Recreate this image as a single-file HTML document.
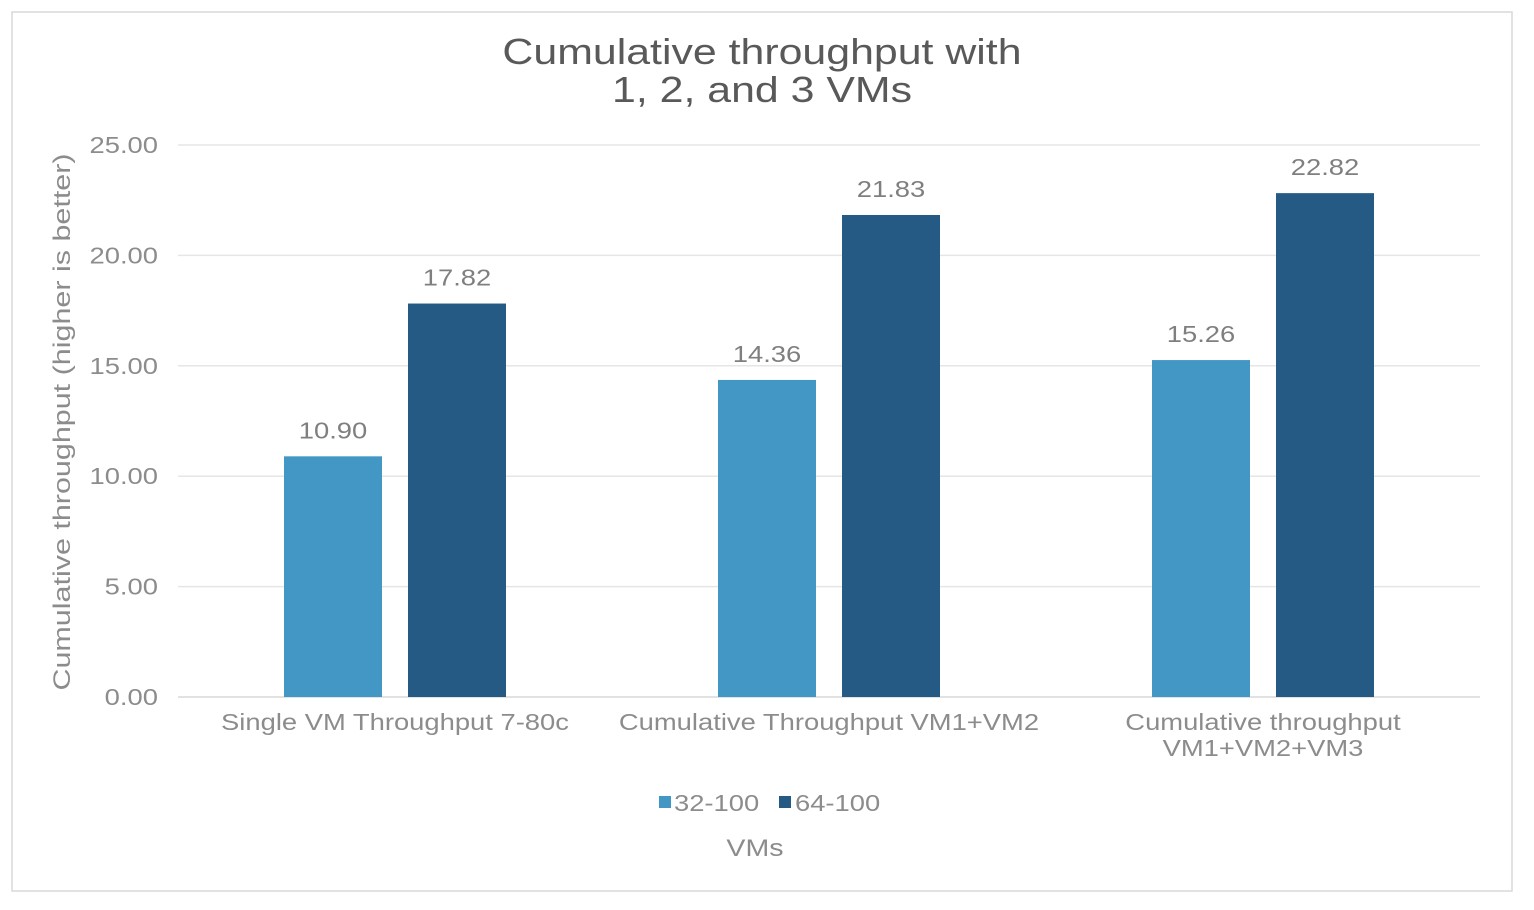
<!DOCTYPE html>
<html><head><meta charset="utf-8"><style>
body{margin:0;background:#fff;}
svg{display:block;font-family:"Liberation Sans",sans-serif;}
</style></head><body>
<svg id="chart" width="1534" height="910">
<rect x="12" y="12" width="1500" height="879" fill="#fff" stroke="#d9d9d9" stroke-width="1.5"/>
<text class="w" x="762" y="64" text-anchor="middle" font-size="36" fill="#595959">Cumulative throughput with</text>
<text class="w" x="762" y="102" text-anchor="middle" font-size="36" fill="#595959">1, 2, and 3 VMs</text>
<text id="ytitle" transform="translate(70,422) rotate(-90)" text-anchor="middle" font-size="24" fill="#8c8c8c">Cumulative throughput (higher is better)</text>
<text class="w" x="755" y="856" text-anchor="middle" font-size="24" fill="#8c8c8c">VMs</text>
<g id="grid"></g><g id="bars"></g><g id="labels"></g>
<g>
<rect x="659" y="796" width="12" height="12" fill="#4397C4"/>
<text class="w" x="674" y="811" font-size="23" fill="#8c8c8c">32-100</text>
<rect x="779" y="796" width="12" height="12" fill="#255A84"/>
<text class="w" x="795" y="811" font-size="23" fill="#8c8c8c">64-100</text>
</g>
</svg>
<script>
const categories=[["Single VM Throughput 7-80c"],["Cumulative Throughput VM1+VM2"],["Cumulative throughput","VM1+VM2+VM3"]];
const series1=[10.90,14.36,15.26];
const series2=[17.82,21.83,22.82];
const ticks=[0,5,10,15,20,25];
const NS="http://www.w3.org/2000/svg";
const x0=178,x1=1480,yBase=697,yTop=145,yMax=25;
const y=v=>yBase-(v/yMax)*(yBase-yTop);
const bw=(x1-x0)/categories.length;
const mk=(t,a,p)=>{const e=document.createElementNS(NS,t);for(const k in a)e.setAttribute(k,a[k]);document.getElementById(p).appendChild(e);return e;};
ticks.forEach(t=>{
 const l=mk('line',{x1:x0,x2:x1,y1:y(t),y2:y(t),stroke:t===0?'#d9d9d9':'#e6e6e6','stroke-width':1.5},'grid');
 
 
 const tx=mk('text',{x:158,y:y(t)+8,'text-anchor':'end','font-size':23,fill:'#8c8c8c',class:'w'},'grid');
 tx.textContent=t.toFixed(2);
 
 
});
categories.forEach((c,i)=>{
 const cx=x0+bw*(i+0.5);
 [[series1,'#4397C4',-111,'32-100'],[series2,'#255A84',13,'64-100']].forEach(([s,col,off,nm])=>{
  const v=s[i];
  const r=mk('rect',{x:cx+off,y:y(v),width:98,height:yBase-y(v),fill:col},'bars');
  
  
  const t=mk('text',{x:cx+off+49,y:y(v)-18,'text-anchor':'middle','font-size':23,fill:'#7f7f7f',class:'w'},'labels');
  t.textContent=v.toFixed(2);
  
  
 });
 c.forEach((line,j)=>{
  const t=mk('text',{x:cx,y:730+j*26,'text-anchor':'middle','font-size':23,fill:'#8c8c8c',class:'w'},'labels');
  t.textContent=line;
  
  
 });
});
document.querySelectorAll('text.w').forEach(t=>{
 t.setAttribute('textLength',(t.getComputedTextLength()*1.19).toFixed(1));
 t.setAttribute('lengthAdjust','spacingAndGlyphs');
});
const yt=document.getElementById('ytitle');
yt.setAttribute('textLength',(yt.getComputedTextLength()*1.27).toFixed(1));
yt.setAttribute('lengthAdjust','spacingAndGlyphs');
</script>
</body></html>
